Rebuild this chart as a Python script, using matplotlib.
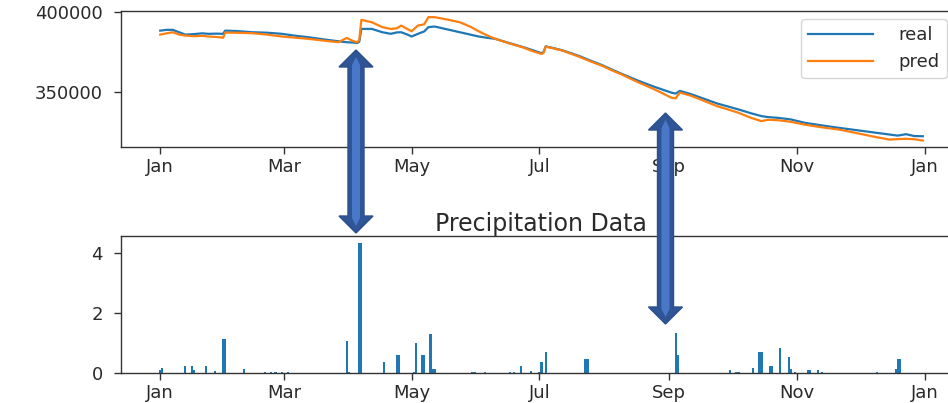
import numpy as np
import matplotlib
matplotlib.use("Agg")
import matplotlib.pyplot as plt
import matplotlib.dates as mdates
from matplotlib.patches import Polygon
from matplotlib.ticker import MultipleLocator, ScalarFormatter

# ---- data (day offsets from 1 Jan 2017) ----
line_days = [0, 3, 6, 9, 12, 16, 20, 23, 27, 30, 31, 36, 44, 51, 58, 65, 71, 78, 85,
             89, 92, 94, 95, 96, 101, 106, 110, 113, 115, 118, 120, 123, 126, 128, 131,
             137, 143, 148, 152, 156, 160, 167, 173, 177, 182, 183, 184, 188, 192, 200,
             205, 211, 216, 220, 228, 236, 244, 246, 248, 253, 259, 266, 272, 276, 282,
             287, 290, 295, 301, 308, 316, 324, 332, 340, 348, 352, 356, 360, 364]
real = [388500, 389000, 389000, 387500, 386000, 386300, 386800, 386500, 386600, 386500,
        388500, 388300, 387500, 387200, 386500, 385200, 384300, 383000, 381800,
        381200, 381000, 380700, 381500, 389600, 389600, 387500, 386500, 387400, 387500,
        386000, 384800, 386500, 388000, 390700, 391100,
        389300, 387500, 386000, 384800, 384000, 383300, 380500, 378200, 376500, 374300,
        375000, 378600, 377400, 376100, 372500,
        369800, 366700, 363700, 361400, 357000, 353000, 349400, 348800, 350500, 348600,
        345800, 342500, 340300, 338800, 336400,
        334600, 334000, 333500, 332500, 330300, 328700, 327200, 325800, 324400, 323000,
        322300, 323200, 322000, 321900]
pred = [386000, 386800, 387500, 386000, 385400, 385000, 385200, 384800, 384500, 384000,
        387300, 387200, 386900, 386000, 384800, 384000, 383300, 382200, 381200,
        383900, 382000, 381200, 382500, 395300, 393800, 390700, 389600, 390000, 391700,
        389500, 388100, 391700, 392500, 397000, 397000,
        395500, 393800, 391000, 388100, 385500, 383300, 380300, 378000, 375900, 373800,
        374500, 378400, 377200, 375900, 372000,
        369300, 366300, 363200, 361000, 356000, 351400, 346200, 345800, 349400, 347600,
        344500, 340800, 338400, 336700, 333500,
        331400, 332300, 332000, 331000, 329100, 327500, 326100, 324000, 321800, 319800,
        320100, 320300, 320000, 319200]

rain_days = [0, 1, 12, 15, 16, 22, 26, 30, 31, 40, 50, 53, 55, 58, 61, 89, 90, 95, 96,
             107, 113, 114, 121, 122, 125, 126, 129, 130, 131, 149, 150, 155, 167, 169,
             172, 177, 181, 182, 184, 203, 204, 246, 247, 272, 275, 276, 283, 286, 287,
             291, 292, 296, 300, 301, 303, 309, 310, 314, 316, 342, 351, 352, 353]
rain = [0.10, 0.18, 0.25, 0.25, 0.10, 0.25, 0.07, 1.12, 1.12, 0.12, 0.05, 0.05, 0.05,
        0.05, 0.05, 1.07, 0.05, 4.35, 4.35,
        0.36, 0.60, 0.60, 0.05, 1.00, 0.59, 0.59, 1.29, 0.12, 0.12, 0.05, 0.05, 0.03,
        0.05, 0.05,
        0.25, 0.07, 0.05, 0.36, 0.71, 0.47, 0.47, 1.35, 0.60, 0.10, 0.05, 0.05, 0.18,
        0.70, 0.70,
        0.25, 0.25, 0.82, 0.54, 0.12, 0.05, 0.10, 0.10, 0.10, 0.05, 0.05, 0.12, 0.47, 0.47]

month_ticks = [1, 3, 5, 7, 9, 11]

base = np.datetime64('2017-01-01')
line_dates = base + np.array(line_days).astype('timedelta64[D]')
rain_dates = base + np.array(rain_days).astype('timedelta64[D]')

W, H = 948, 403
fig = plt.figure(figsize=(W / 100, H / 100), dpi=100)
txt = '#2a2a2a'

ax1 = fig.add_axes([121 / W, 1 - 146.7 / H, (961 - 121) / W, (146.7 - 11) / H])
ax2 = fig.add_axes([121 / W, 1 - 373 / H, (961 - 121) / W, (373 - 236) / H], sharex=ax1)

ax1.plot(line_dates, real, color='#1f77b4', lw=1.6, label='real')
ax1.plot(line_dates, pred, color='#ff7f0e', lw=1.6, label='pred')
ax1.yaxis.set_major_locator(MultipleLocator(50000))
fmt = ScalarFormatter(useOffset=False)
fmt.set_scientific(False)
ax1.yaxis.set_major_formatter(fmt)

ax2.bar(rain_dates, rain, width=1.0, color='#1f77b4')
ax2.yaxis.set_major_locator(MultipleLocator(2))
ax2.set_title('Precipitation Data', fontsize=17, color=txt, pad=2)

for ax in (ax1, ax2):
    ax.xaxis.set_major_locator(mdates.MonthLocator(bymonth=month_ticks))
    ax.xaxis.set_major_formatter(mdates.DateFormatter('%b'))
    ax.tick_params(axis='both', labelsize=13, colors='#333333', labelcolor=txt,
                   length=5, width=1.0)
    ax.tick_params(axis='y', pad=8)
    ax.tick_params(axis='x', labelbottom=True, pad=3)
    for s in ax.spines.values():
        s.set_linewidth(1.0)
        s.set_color('#333333')

leg = ax1.legend(loc='upper right', bbox_to_anchor=(947 / W, 1 - 19 / H),
                 bbox_transform=fig.transFigure, fontsize=13, handlelength=3.6,
                 handletextpad=1.4, borderaxespad=0)
for t in leg.get_texts():
    t.set_color(txt)


def to_fig(pts):
    return [(x / W, 1 - y / H) for x, y in pts]


def double_arrow(xc, ytop, ybot, head_w=34, head_l=17, shaft_w=16):
    hw, sw = head_w / 2, shaft_w / 2
    outer = [(xc, ytop), (xc + hw, ytop + head_l), (xc + sw, ytop + head_l),
             (xc + sw, ybot - head_l), (xc + hw, ybot - head_l), (xc, ybot),
             (xc - hw, ybot - head_l), (xc - sw, ybot - head_l),
             (xc - sw, ytop + head_l), (xc - hw, ytop + head_l)]
    fig.add_artist(Polygon(to_fig(outer), closed=True, transform=fig.transFigure,
                           facecolor='#2F5597', edgecolor='#2B4F8E', lw=1, zorder=10))
    inner = [(xc, ytop + 7), (xc + 4, ytop + 15), (xc + 4, ybot - 15), (xc, ybot - 7),
             (xc - 4, ybot - 15), (xc - 4, ytop + 15)]
    fig.add_artist(Polygon(to_fig(inner), closed=True, transform=fig.transFigure,
                           facecolor='#4A78C8', edgecolor='none', zorder=11))


double_arrow(356, 50, 233)
double_arrow(665.5, 113, 324)

fig.savefig('out.png', dpi=100)
